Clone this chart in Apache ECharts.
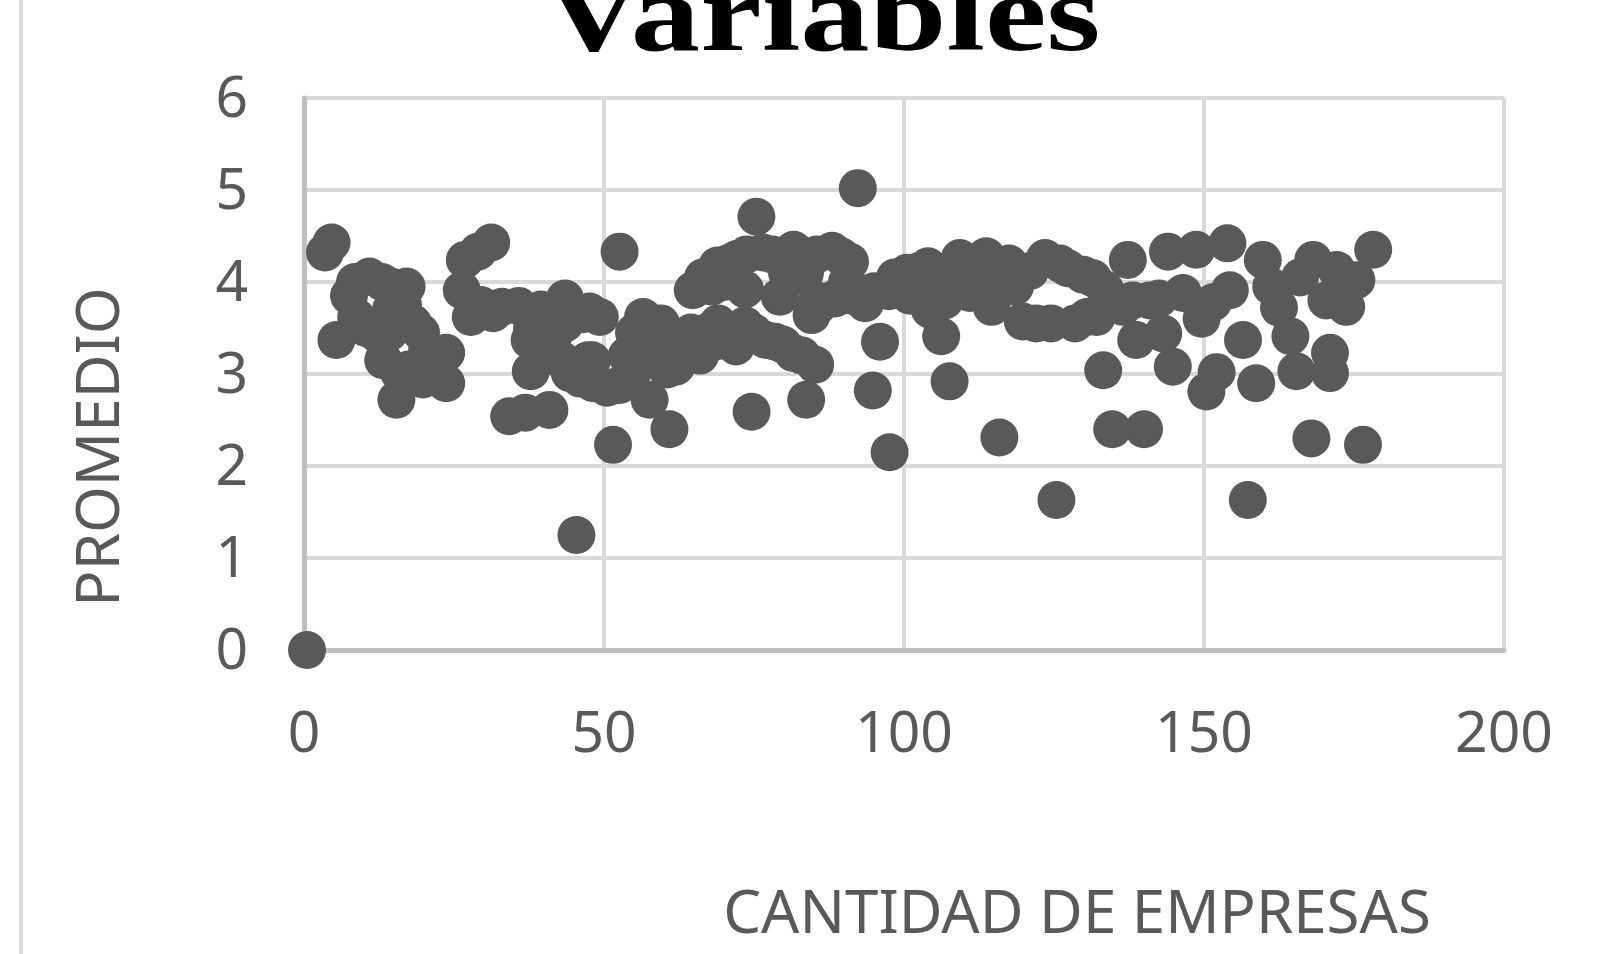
<!DOCTYPE html>
<html>
<head>
<meta charset="utf-8">
<title>Variables</title>
<script src="https://cdn.jsdelivr.net/npm/echarts@6/dist/echarts.min.js"></script>
<style>
  html, body { margin: 0; padding: 0; background: #ffffff; }
  #chart { width: 1602px; height: 954px; }
</style>
</head>
<body>
<div id="chart"></div>
<script>
// datos (x = cantidad de empresas, y = promedio)
var empresas = [
  0.5, 3.5, 4.6, 5.4, 7.5, 8.7, 8.5, 10.9, 12.1, 13.2, 14.5, 17.1, 18.2, 15.9, 15.4, 19.8, 21.5, 23.7, 23.7,
  10.3, 14.2, 20.5, 22.5, 13, 14.5, 16.5, 19.5, 17.5,
  26.3, 26.8, 29, 31.2, 27.8, 29.5, 31.5, 33, 35.8, 38, 37.6, 37.8, 39.5, 40.5, 42, 43.5, 43, 44.3, 46,
  46.5, 47.6, 48.2, 49.3, 50.5, 34.2, 36.9, 40.9, 45.4, 51.5, 41.5, 48, 39.5, 43.5, 47.3, 46.5,
  52.6, 52.6, 53.8, 55, 56.5, 57.5, 58.7, 60, 61.5, 62, 63.5, 65.4, 67, 68.5, 70.4, 71.5, 73.5, 75, 77,
  78.5, 79.8, 81.5, 83, 85.2, 57.6, 60.9, 74.6, 83.7, 94.8, 97.6, 96,
  55, 56, 59.5, 60.5, 63, 64.5, 66, 69, 72,
  64.8, 66.5, 68.9, 70.5, 72.1, 73.8, 75.4, 76.5, 78, 79.3, 80.5, 81.6, 83, 84.6, 85.5, 88, 88.5, 89.5,
  91, 91.3, 92.3, 93.5, 95, 97.5, 98.5,
  68, 70, 81, 83.5, 85.8, 90.5, 73.5, 85.5,
  99.5, 100.5, 101, 102.5, 104, 104.3, 105.5, 106.2, 107.5, 107.6, 109.3, 109.5, 111, 112.5, 113.7, 114.6,
  115.9, 116.5, 117.5, 118.5, 119.8, 121, 122, 123.5, 124.5, 125.4, 126, 127.3, 128.5, 129.8, 130.5,
  131.5, 132.1, 133.2, 133.5, 134.5, 134.7, 136.5, 137.3, 138.1, 138.7, 140, 141, 142.5, 143.2, 144, 144.8,
  103, 106.8, 111.5, 115, 118,
  146.5, 148.7, 149.6, 150.4, 151.5, 152.1, 153.9, 154.3, 156.5, 157.3, 158.7, 159.8, 161.2, 162.5, 164.4,
  165.4, 166, 167.9, 168.2, 170.4, 171, 171, 172.1, 173.7, 175.4, 176.5, 178.2
];
var promedio = [
  0, 4.32, 4.43, 3.37, 3.85, 3.62, 4.0, 4.06, 3.44, 3.15, 3.95, 3.95, 3.55, 3.01, 2.72, 2.94, 3.05, 3.23, 2.9,
  3.5, 3.45, 3.25, 3.1, 4.0, 3.7, 3.75, 3.45, 3.05,
  3.91, 4.24, 4.33, 4.43, 3.62, 3.75, 3.66, 3.73, 3.74, 3.5, 3.37, 3.03, 3.25, 3.55, 3.6, 3.82, 3.15, 3.01, 2.95,
  3.65, 3.68, 2.9, 3.62, 2.85, 2.54, 2.58, 2.61, 1.25, 2.23, 3.4, 3.15, 3.7, 3.55, 3.15, 3.05,
  4.33, 2.88, 3.2, 3.45, 3.62, 3.4, 3.33, 3.25, 3.3, 3.08, 3.35, 3.23, 3.45, 3.35, 3.37, 3.45, 3.53, 3.45, 3.37,
  3.35, 3.32, 3.23, 3.2, 3.1, 2.72, 2.4, 2.59, 2.72, 2.82, 2.15, 3.35,
  3.05, 3.3, 3.55, 3.05, 3.2, 3.45, 3.2, 3.55, 3.3,
  3.91, 4.05, 4.18, 4.2, 4.25, 4.3, 4.71, 4.32, 4.3, 3.84, 4.1, 4.35, 4.2, 3.64, 3.8, 4.34, 3.82, 4.28,
  4.22, 3.85, 5.02, 3.77, 3.9, 3.9, 4.05,
  3.95, 4.0, 4.05, 4.1, 3.75, 4.0, 3.92, 4.3,
  3.99, 4.1, 3.85, 4.12, 4.17, 3.7, 3.95, 3.41, 4.1, 2.92, 4.26, 3.95, 3.88, 4.1, 4.28, 3.73,
  2.31, 4.05, 4.2, 3.95, 3.57, 4.12, 3.55, 4.26, 3.55, 1.63, 4.2, 4.15, 3.55, 4.08, 3.62,
  4.04, 3.62, 3.04, 3.92, 3.77, 2.4, 3.73, 4.24, 3.8, 3.37, 2.4, 3.8, 3.82, 3.44, 4.33, 3.08,
  3.85, 3.8, 4.2, 4.05, 4.15,
  3.88, 4.35, 3.6, 2.81, 3.78, 3.02, 4.42, 3.91, 3.37, 1.63, 2.9, 4.24, 3.95, 3.72, 3.41,
  3.03, 4.05, 2.3, 4.24, 3.8, 3.23, 3.01, 4.13, 3.73, 4.02, 2.23, 4.35
];
var ticksX = [0, 50, 100, 150, 200];
var ticksY = [0, 1, 2, 3, 4, 5, 6];

var puntos = [];
for (var i = 0; i < empresas.length; i++) {
  puntos.push([empresas[i], promedio[i]]);
}

var myChart = echarts.init(document.getElementById("chart"));
myChart.setOption({
  backgroundColor: "#ffffff",
  animation: false,
  grid: { left: 304, right: 98, top: 98, bottom: 304, containLabel: false },
  xAxis: {
    type: "value",
    min: ticksX[0],
    max: ticksX[ticksX.length - 1],
    interval: ticksX[1] - ticksX[0],
    axisLine: { show: true, lineStyle: { color: "#bfbfbf", width: 5 } },
    axisTick: { show: false },
    splitLine: { show: true, lineStyle: { color: "#d9d9d9", width: 4 } },
    axisLabel: { color: "#595959", fontSize: 57, fontFamily: "Noto Sans", margin: 57 }
  },
  yAxis: {
    type: "value",
    min: ticksY[0],
    max: ticksY[ticksY.length - 1],
    interval: ticksY[1] - ticksY[0],
    axisLine: { show: true, lineStyle: { color: "#bfbfbf", width: 5 } },
    axisTick: { show: false },
    splitLine: { show: true, lineStyle: { color: "#d9d9d9", width: 4 } },
    axisLabel: {
      margin: 56,
      formatter: "{v|{value}}",
      rich: { v: { color: "#595959", fontSize: 57, fontFamily: "Noto Sans", padding: [6, 0, 0, 0] } }
    }
  },
  graphic: [
    // borde izquierdo del recuadro
    { type: "line", shape: { x1: 21, y1: 0, x2: 21, y2: 954 }, style: { stroke: "#d9d9d9", lineWidth: 4 } },
    // titulo (cortado arriba y estirado)
    {
      type: "text", x: 822, y: 22, scaleX: 1.26,
      style: { text: "Variables", font: 'bold 110px "Liberation Serif"', fill: "#000000", align: "center", verticalAlign: "middle" }
    },
    {
      type: "text", x: 102, y: 447, rotation: Math.PI / 2,
      style: { text: "PROMEDIO", font: '60px "Noto Sans"', fill: "#595959", align: "center", verticalAlign: "middle" }
    },
    {
      type: "text", x: 1077, y: 916,
      style: { text: "CANTIDAD DE EMPRESAS", font: '60px "Noto Sans"', fill: "#595959", align: "center", verticalAlign: "middle" }
    }
  ],
  series: [
    {
      type: "scatter",
      clip: false,
      symbol: "circle",
      symbolSize: 38,
      itemStyle: { color: "#595959", opacity: 1 },
      data: puntos
    }
  ]
});
</script>
</body>
</html>
